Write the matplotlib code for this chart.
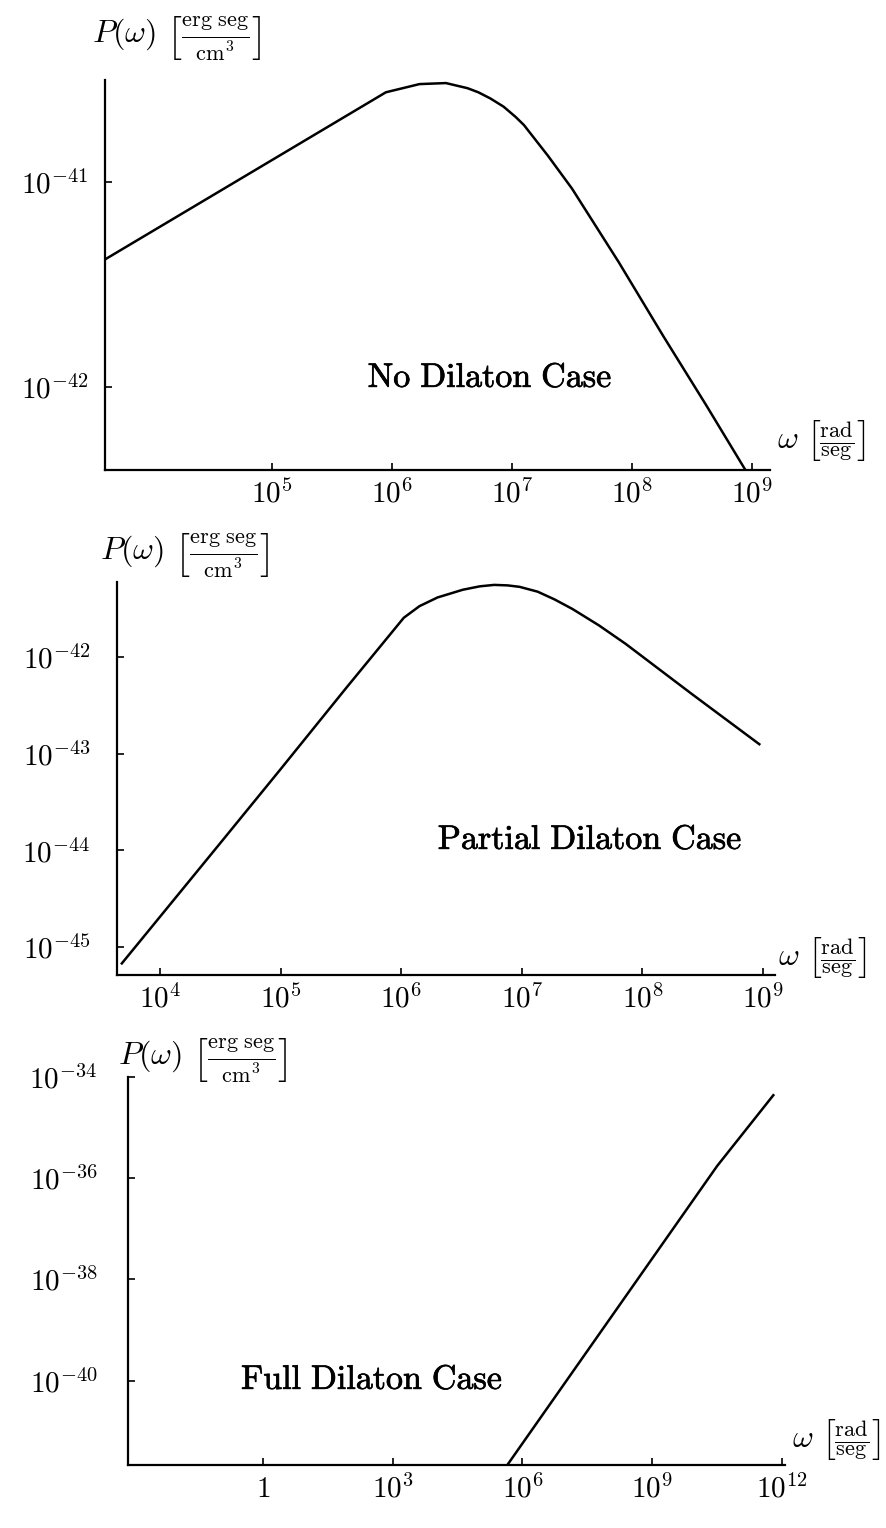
"""Power spectrum P(omega) for the three dilaton cases, stacked log-log panels."""

import matplotlib

matplotlib.use("Agg")

import matplotlib.pyplot as plt
import numpy as np
from matplotlib import patheffects

plt.rcParams["mathtext.fontset"] = "cm"
plt.rcParams["font.family"] = ["DejaVu Serif"]

W, H = 886, 1528

# Curves, stored as log10 values.
nodil_log_w = [3.60, 5.95, 6.09, 6.23, 6.45, 6.63, 6.72, 6.82, 6.93, 7.03, 7.10, 7.18, 7.30,
               7.50, 7.89, 8.26, 8.62, 8.94]
nodil_log_p = [-41.38, -40.56, -40.54, -40.52, -40.515, -40.54, -40.56, -40.59, -40.63, -40.68,
               -40.72, -40.78, -40.87, -41.03, -41.39, -41.75, -42.09, -42.40]

partial_log_w = [3.68, 4.48, 4.99, 5.54, 6.02, 6.15, 6.30, 6.51, 6.65, 6.77, 6.88, 6.98, 7.13,
                 7.27, 7.42, 7.64, 7.86, 8.41, 8.97]
partial_log_p = [-45.17, -43.95, -43.17, -42.32, -41.59, -41.47, -41.38, -41.30, -41.265, -41.25,
                 -41.255, -41.27, -41.32, -41.40, -41.50, -41.67, -41.86, -42.38, -42.90]

full_log_w = [5.65, 10.50, 11.80]
full_log_p = [-41.67, -35.76, -34.36]

nodil_xticks = [1e5, 1e6, 1e7, 1e8, 1e9]
nodil_xlabels = [r"$10^{5}$", r"$10^{6}$", r"$10^{7}$", r"$10^{8}$", r"$10^{9}$"]
nodil_yticks = [1e-41, 1e-42]
nodil_ylabels = [r"$10^{-41}$", r"$10^{-42}$"]

partial_xticks = [1e4, 1e5, 1e6, 1e7, 1e8, 1e9]
partial_xlabels = [r"$10^{4}$", r"$10^{5}$", r"$10^{6}$", r"$10^{7}$", r"$10^{8}$", r"$10^{9}$"]
partial_yticks = [1e-42, 1e-43, 1e-44, 1e-45]
partial_ylabels = [r"$10^{-42}$", r"$10^{-43}$", r"$10^{-44}$", r"$10^{-45}$"]

full_xticks = [1e0, 1e3, 1e6, 1e9, 1e12]
full_xlabels = [r"$1$", r"$10^{3}$", r"$10^{6}$", r"$10^{9}$", r"$10^{12}$"]
full_yticks = [1e-34, 1e-36, 1e-38, 1e-40]
full_ylabels = [r"$10^{-34}$", r"$10^{-36}$", r"$10^{-38}$", r"$10^{-40}$"]

YLABEL = r"$P(\omega)\ \left[\frac{\mathrm{erg\ seg}}{\mathrm{cm}^3}\right]$"
XLABEL = r"$\omega\ \left[\frac{\mathrm{rad}}{\mathrm{seg}}\right]$"


def add_axes_px(fig, left, top, right, bottom):
    return fig.add_axes([left / W, 1 - bottom / H, (right - left) / W, (bottom - top) / H])


def fig_text_px(fig, x, y, s, **kw):
    return fig.text(x / W, 1 - y / H, s, **kw)


def draw_panel(fig, box, xlim, ylim, lw, lp, xticks, xlabels, yticks, ylabels, ypad):
    ax = add_axes_px(fig, *box)
    ax.plot(np.power(10.0, lw), np.power(10.0, lp), color="black", lw=1.8,
            solid_joinstyle="round")
    ax.set_xscale("log")
    ax.set_yscale("log")
    ax.set_xlim(10.0 ** xlim[0], 10.0 ** xlim[1])
    ax.set_ylim(10.0 ** ylim[0], 10.0 ** ylim[1])
    ax.set_xticks(xticks, xlabels)
    ax.set_yticks(yticks, ylabels)
    ax.minorticks_off()
    ax.spines[["top", "right"]].set_visible(False)
    for side in ("left", "bottom"):
        ax.spines[side].set_linewidth(1.6)
    ax.tick_params(direction="in", length=5, width=1.2, labelsize=21)
    ax.tick_params(axis="x", pad=7)
    ax.tick_params(axis="y", pad=ypad)
    ax.patch.set_alpha(0)
    return ax


def main():
    fig = plt.figure(figsize=(W / 100, H / 100), dpi=100)
    bold = [patheffects.withStroke(linewidth=0.5, foreground="black")]

    draw_panel(fig, (105, 80, 770, 470), (3.61, 9.15), (-42.405, -40.50),
               nodil_log_w, nodil_log_p, nodil_xticks, nodil_xlabels,
               nodil_yticks, nodil_ylabels, 12)
    draw_panel(fig, (117, 582, 775, 975), (3.64, 9.10), (-45.29, -41.22),
               partial_log_w, partial_log_p, partial_xticks, partial_xlabels,
               partial_yticks, partial_ylabels, 19)
    draw_panel(fig, (128, 1077, 785, 1465), (-3.12, 12.07), (-41.67, -34.0),
               full_log_w, full_log_p, full_xticks, full_xlabels,
               full_yticks, full_ylabels, 22)

    for x, y in [(92, 38), (100, 555), (118, 1060)]:
        fig_text_px(fig, x, y, YLABEL, fontsize=23, ha="left", va="center")
    for x, y in [(777, 440), (778, 958), (792, 1440)]:
        fig_text_px(fig, x, y, XLABEL, fontsize=23, ha="left", va="center")

    cases = [("No Dilaton Case", 490, 378), ("Partial Dilaton Case", 590, 840),
             ("Full Dilaton Case", 372, 1380)]
    for label, x, y in cases:
        s = r"$\mathrm{" + label.replace(" ", r"\ ") + "}$"
        fig_text_px(fig, x, y, s, fontsize=24.5, ha="center", va="center", path_effects=bold)

    fig.savefig("out.png", dpi=100)
    plt.close(fig)


if __name__ == "__main__":
    main()
